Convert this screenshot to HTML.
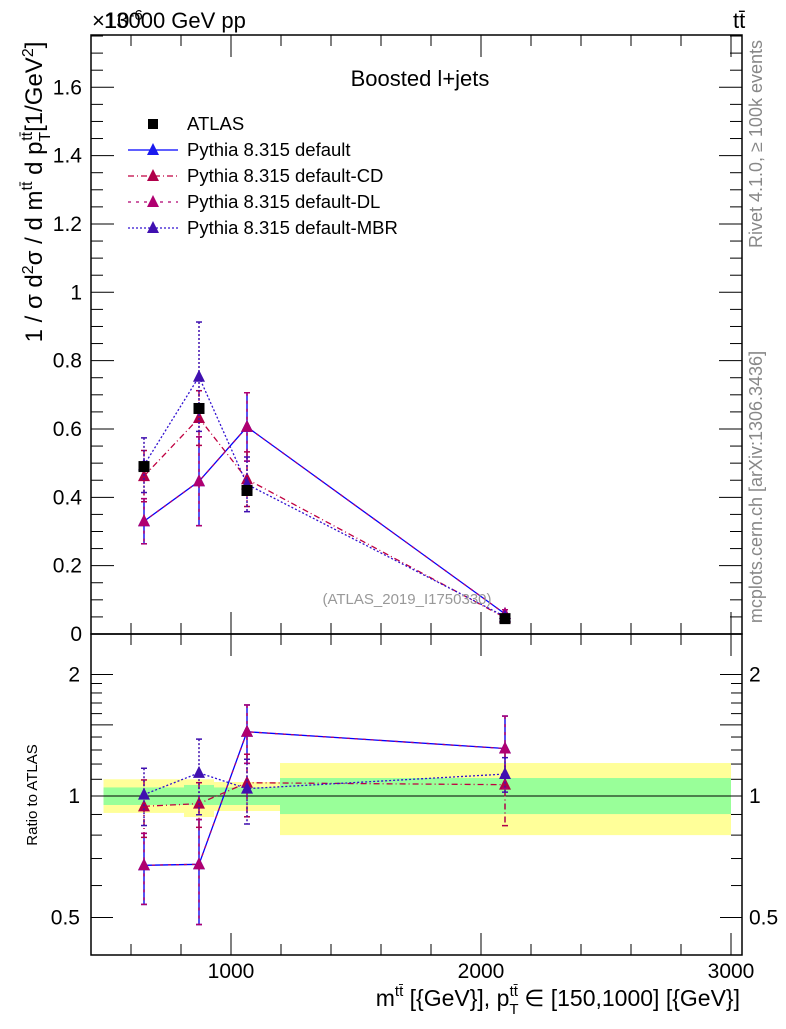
<!DOCTYPE html>
<html><head><meta charset="utf-8"><style>
body{margin:0;background:#fff}
svg text{font-family:"Liberation Sans",sans-serif}
</style></head><body>
<svg id="chart" width="786" height="1024" xmlns="http://www.w3.org/2000/svg">
<g id="bands"></g>
<g id="axes"></g>
<g id="series"></g>
<text x="92" y="28" font-size="22">×10<tspan dy="-8" font-size="15">-6</tspan></text>
<text x="104" y="28" font-size="22">13000 GeV pp</text>
<text x="733" y="28" font-size="22">tt̄</text>
<text x="420" y="86" font-size="22" text-anchor="middle">Boosted l+jets</text>
<text x="407" y="604" font-size="15" fill="#999" text-anchor="middle">(ATLAS_2019_I1750330)</text>
<text transform="translate(42,192) rotate(-90)" font-size="24" text-anchor="middle">1 / σ d<tspan dy="-9" font-size="16">2</tspan><tspan dy="9">σ / d  m</tspan><tspan dy="-10" font-size="16">tt̄</tspan><tspan dy="10"> d p</tspan><tspan dy="8" font-size="16">T</tspan><tspan dy="-18" dx="-9" font-size="16">tt̄</tspan><tspan dy="10">[1/GeV</tspan><tspan dy="-9" font-size="16">2</tspan><tspan dy="9">]</tspan></text>
<text transform="translate(37,795) rotate(-90)" font-size="15" text-anchor="middle">Ratio to ATLAS</text>
<text x="740" y="1006" font-size="23" text-anchor="end">m<tspan dy="-10" font-size="15">tt̄</tspan><tspan dy="10"> [{GeV}], p</tspan><tspan dy="8" font-size="15">T</tspan><tspan dy="-18" dx="-9" font-size="15">tt̄</tspan><tspan dy="10"> ∈ [150,1000] [{GeV}]</tspan></text>
<text transform="translate(762,144) rotate(-90)" font-size="18" fill="#888" text-anchor="middle">Rivet 4.1.0, ≥ 100k events</text>
<text transform="translate(762,487) rotate(-90)" font-size="18" fill="#888" text-anchor="middle">mcplots.cern.ch [arXiv:1306.3436]</text>
<g id="legend"></g>
</svg>
<script>
const NS="http://www.w3.org/2000/svg";
const xValues=[652,872,1064,2096];
const atlasValues=[0.49,0.66,0.42,0.045];
const defaultValues=[0.33,0.447,0.606,0.059];
const defaultErrors=[0.066,0.13,0.1,0.012];
const cdValues=[0.462,0.632,0.453,0.048];
const cdErrors=[0.075,0.08,0.08,0.01];
const dlValues=[0.33,0.447,0.606,0.059];
const dlErrors=[0.066,0.13,0.1,0.012];
const mbrValues=[0.494,0.753,0.438,0.051];
const mbrErrors=[0.08,0.16,0.08,0.005];
const bandEdges=[490,812,932,1196,3000];
const yellowHi=[1.10,1.10,1.083,1.207];
const yellowLo=[0.908,0.887,0.918,0.80];
const greenHi=[1.05,1.065,1.05,1.108];
const greenLo=[0.95,0.95,0.95,0.902];
const mainTicks=[0,0.2,0.4,0.6,0.8,1,1.2,1.4,1.6];
const mainTickLabels=["0","0.2","0.4","0.6","0.8","1","1.2","1.4","1.6"];
const xTicks=[1000,2000,3000];
const xTickLabels=["1000","2000","3000"];
const ratioLabelTicks=[0.5,1,2];
const ratioLabels=["0.5","1","2"];

const L=91,R=742,MT=35,MB=634,RB=955;
const X=v=>231+(v-1000)*0.25;
const Y=v=>634-v*341.7;
const RY=r=>796-Math.log2(r)*121.5;
function el(t,a,p){const e=document.createElementNS(NS,t);for(const k in a)e.setAttribute(k,a[k]);p.appendChild(e);return e;}
const axes=document.getElementById('axes'),bands=document.getElementById('bands'),ser=document.getElementById('series'),leg=document.getElementById('legend');

for(let i=0;i<4;i++){
  const x0=X(bandEdges[i]),x1=X(bandEdges[i+1]);
  const y=el('rect',{x:x0,y:RY(yellowHi[i]),width:x1-x0,height:RY(yellowLo[i])-RY(yellowHi[i]),fill:'#ffff99'},bands);
  
  
  const g=el('rect',{x:x0,y:RY(greenHi[i]),width:x1-x0,height:RY(greenLo[i])-RY(greenHi[i]),fill:'#99ff99'},bands);
  
  
}
el('line',{x1:L,x2:R,y1:RY(1),y2:RY(1),stroke:'#000','stroke-width':1},axes);

el('rect',{x:L,y:MT,width:R-L,height:MB-MT,fill:'none',stroke:'#000','stroke-width':1.5},axes);
el('rect',{x:L,y:MB,width:R-L,height:RB-MB,fill:'none',stroke:'#000','stroke-width':1.5},axes);
for(let v=0;v<=1.76;v+=0.05){const y=Y(v);const maj=Math.abs(v*5-Math.round(v*5))<1e-6;const len=maj?23:12;
 el('line',{x1:L,x2:L+len,y1:y,y2:y,stroke:'#000'},axes);el('line',{x1:R,x2:R-len,y1:y,y2:y,stroke:'#000'},axes);}
mainTicks.forEach((v,i)=>{const t=el('text',{x:82,y:Y(v)+7,'font-size':21,'text-anchor':'end'},axes);t.textContent=mainTickLabels[i];
 
 });
for(let v=500;v<=3000;v+=100){const x=X(v);const maj=v%1000===0;const len=maj?22:(v%200===0?11:0);
 if(!len)continue;
 [[MB,-1],[MT,1],[RB,-1],[MB,1]].forEach(([y0,d])=>el('line',{x1:x,x2:x,y1:y0,y2:y0+d*len,stroke:'#000'},axes));}
xTicks.forEach((v,i)=>{const t=el('text',{x:X(v),y:978,'font-size':21,'text-anchor':'middle'},axes);t.textContent=xTickLabels[i];
 
 });
for(let r=0.5;r<=2.01;r+=0.1){const y=RY(r);const maj=[0.5,1,1.5,2].some(m=>Math.abs(m-r)<1e-6);const len=maj?22:11;
 el('line',{x1:L,x2:L+len,y1:y,y2:y,stroke:'#000'},axes);el('line',{x1:R,x2:R-len,y1:y,y2:y,stroke:'#000'},axes);}
ratioLabelTicks.forEach((v,i)=>{
 const t=el('text',{x:80,y:RY(v)+7,'font-size':21,'text-anchor':'end'},axes);t.textContent=ratioLabels[i];
 
 
 const t2=el('text',{x:749,y:RY(v)+7,'font-size':21},axes);t2.textContent=ratioLabels[i];
 
 });

function tri(x,y,c,p){const m=el('path',{d:`M${x-6},${y+5}L${x+6},${y+5}L${x},${y-7}Z`,fill:c},p);return m;}
const series=[
 {name:'default',vals:defaultValues,errs:defaultErrors,c:'#1a1aee',dash:'',line:'#0000ff'},
 {name:'default-cd',vals:cdValues,errs:cdErrors,c:'#b0004a',dash:'6,3,1,3',line:'#c00040'},
 {name:'default-dl',vals:dlValues,errs:dlErrors,c:'#b00070',dash:'3,5',line:'#b00070'},
 {name:'default-mbr',vals:mbrValues,errs:mbrErrors,c:'#4010b0',dash:'2,2',line:'#3010d0'}];
series.forEach(s=>{
 const g=el('g',{},ser);
 
 
 const pm=xValues.map((x,i)=>X(x)+','+Y(s.vals[i])).join(' ');
 el('polyline',{points:pm,fill:'none',stroke:s.line,'stroke-width':1.3,'stroke-dasharray':s.dash},g);
 const pr=xValues.map((x,i)=>X(x)+','+RY(s.vals[i]/atlasValues[i])).join(' ');
 el('polyline',{points:pr,fill:'none',stroke:s.line,'stroke-width':1.3,'stroke-dasharray':s.dash},g);
 xValues.forEach((xv,i)=>{const x=X(xv);
  const y1=Y(s.vals[i]+s.errs[i]),y2=Y(Math.max(0,s.vals[i]-s.errs[i]));
  el('line',{x1:x,x2:x,y1:y1,y2:y2,stroke:s.c,'stroke-width':1.5,'stroke-dasharray':s.dash},g);
  el('line',{x1:x-3,x2:x+3,y1:y1,y2:y1,stroke:s.c,'stroke-width':1.5},g);el('line',{x1:x-3,x2:x+3,y1:y2,y2:y2,stroke:s.c,'stroke-width':1.5},g);
  const r=s.vals[i]/atlasValues[i],re=s.errs[i]/atlasValues[i];
  const r1=RY(r+re),r2=RY(Math.max(0.41,r-re));
  el('line',{x1:x,x2:x,y1:r1,y2:r2,stroke:s.c,'stroke-width':1.5,'stroke-dasharray':s.dash},g);
  el('line',{x1:x-3,x2:x+3,y1:r1,y2:r1,stroke:s.c,'stroke-width':1.5},g);el('line',{x1:x-3,x2:x+3,y1:r2,y2:r2,stroke:s.c,'stroke-width':1.5},g);
 });
 xValues.forEach((xv,i)=>{
  const m=tri(X(xv),Y(s.vals[i]),s.c,g);
  
  
  const m2=tri(X(xv),RY(s.vals[i]/atlasValues[i]),s.c,g);
  
  
 });
});
const ag=el('g',{},ser);


xValues.forEach((xv,i)=>{const r=el('rect',{x:X(xv)-5.5,y:Y(atlasValues[i])-5.5,width:11,height:11,fill:'#000'},ag);
 
 });

const legNames=['ATLAS','Pythia 8.315 default','Pythia 8.315 default-CD','Pythia 8.315 default-DL','Pythia 8.315 default-MBR'];
legNames.forEach((n,i)=>{const y=124+i*26;const g=el('g',{},leg);
 
 
 if(i===0){el('rect',{x:148,y:y-5,width:10,height:10,fill:'#000'},g);}
 else{const s=series[i-1];el('line',{x1:128,x2:178,y1:y,y2:y,stroke:s.line,'stroke-width':1.3,'stroke-dasharray':s.dash},g);tri(153,y,s.c,g);}
 const t=el('text',{x:187,y:y+6,'font-size':18.5},g);t.textContent=n;});
</script>
</body></html>
